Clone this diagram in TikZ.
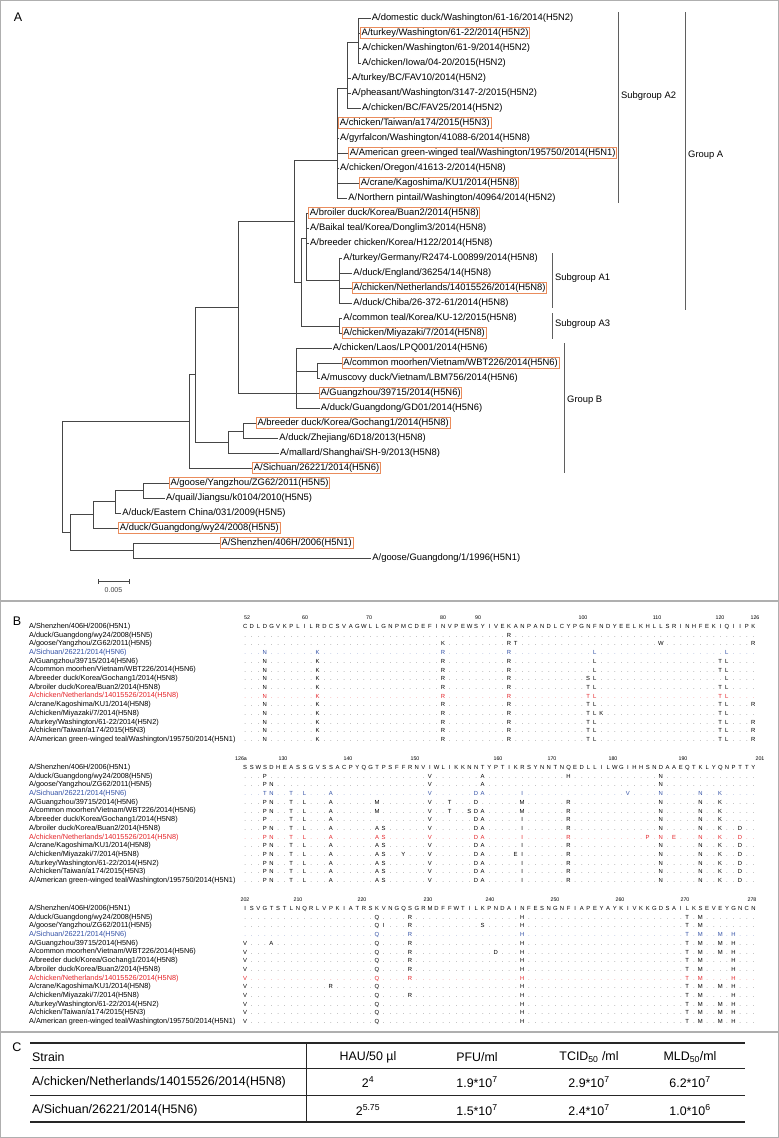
\documentclass[tikz,border=0pt]{standalone}
\usepackage{fontspec}
\setmainfont{Liberation Sans}
\definecolor{boxc}{RGB}{234,140,92}
\definecolor{treec}{RGB}{70,70,70}
\definecolor{grpc}{RGB}{95,95,95}
\definecolor{framec}{RGB}{175,175,175}
\definecolor{blueseq}{RGB}{50,80,165}
\definecolor{redseq}{RGB}{228,35,40}
\newcommand\cw{6.6pt}
\def\seq#1{\seqi#1\relax}
\def\seqi#1{\ifx\relax#1\else\makebox[\cw][c]{#1}\expandafter\seqi\fi}
\newcommand\dotline{\foreach \i in {1,...,78}{\makebox[\cw][c]{.}}}
\def\yA{626.5}
\def\yB{767.5}
\def\yC{908.5}
\newcommand\arow[4]{%
  \node[dots, text=#3!62!white] (#1d) at (241.7,{#2+2}) {\dotline};
  \foreach \k/\c in {#4} {\node[res, text=#3] (#1-\k) at ({245+6.6*\k},{#2+2}) {\c};}
}
\newcommand\names[2]{%
  \node[nm] (#2n0) at (29,{#1}) {A/Shenzhen/406H/2006(H5N1)};
  \node[nm] (#2n1) at (29,{#1+8.7}) {A/duck/Guangdong/wy24/2008(H5N5)};
  \node[nm] (#2n2) at (29,{#1+8.7*2}) {A/goose/Yangzhou/ZG62/2011(H5N5)};
  \node[nm, text=blueseq] (#2n3) at (29,{#1+8.7*3}) {A/Sichuan/26221/2014(H5N6)};
  \node[nm] (#2n4) at (29,{#1+8.7*4}) {A/Guangzhou/39715/2014(H5N6)};
  \node[nm] (#2n5) at (29,{#1+8.7*5}) {A/common moorhen/Vietnam/WBT226/2014(H5N6)};
  \node[nm] (#2n6) at (29,{#1+8.7*6}) {A/breeder duck/Korea/Gochang1/2014(H5N8)};
  \node[nm] (#2n7) at (29,{#1+8.7*7}) {A/broiler duck/Korea/Buan2/2014(H5N8)};
  \node[nm, text=redseq] (#2n8) at (29,{#1+8.7*8}) {A/chicken/Netherlands/14015526/2014(H5N8)};
  \node[nm] (#2n9) at (29,{#1+8.7*9}) {A/crane/Kagoshima/KU1/2014(H5N8)};
  \node[nm] (#2n10) at (29,{#1+8.7*10}) {A/chicken/Miyazaki/7/2014(H5N8)};
  \node[nm] (#2n11) at (29,{#1+8.7*11}) {A/turkey/Washington/61-22/2014(H5N2)};
  \node[nm] (#2n12) at (29,{#1+8.7*12}) {A/chicken/Taiwan/a174/2015(H5N3)};
  \node[nm] (#2n13) at (29,{#1+8.7*13}) {A/American green-winged teal/Washington/195750/2014(H5N1)};
}
\begin{document}
\begin{tikzpicture}[x=1pt,y=-1pt,
  leaf/.style={anchor=west, inner sep=1.2pt, font=\fontsize{9.4}{10}\selectfont},
  hl/.style={leaf, draw=boxc, line width=0.8pt},
  branch/.style={draw=treec, line width=0.9pt},
  grp/.style={draw=grpc, line width=0.9pt},
  grplab/.style={anchor=west, inner sep=0pt, font=\fontsize{9.4}{10}\selectfont},
  plab/.style={inner sep=0pt, font=\fontsize{12.5}{13}\selectfont},
  nm/.style={anchor=west, inner sep=0pt, font=\fontsize{7.3}{8}\selectfont},
  dots/.style={anchor=base west, inner sep=0pt, font=\fontsize{6}{6}\selectfont},
  res/.style={anchor=base, inner sep=0.3pt, fill=white, text height=4.3pt, text depth=0pt, font=\fontsize{5.9}{6}\selectfont},
  cons/.style={anchor=base west, inner sep=0pt, font=\fontsize{5.9}{6}\selectfont},
  num/.style={inner sep=0pt, font=\fontsize{5.3}{6}\selectfont},
  tc/.style={inner sep=0pt, font=\fontsize{12.4}{13}\selectfont},
  rule/.style={draw=black!85, line width=#1},
]
\useasboundingbox (0,0) rectangle (779,1138);
\draw[framec, line width=1.3pt] (0.7,0.7) rectangle (778.3,1137.3);
\draw[framec, line width=1.1pt] (0,601) -- (779,601);
\draw[framec, line width=1.1pt] (0,1032) -- (779,1032);

% ---------------- Panel A ----------------
\node[plab] (labA) at (18,17) {A};
\node[leaf] (l1) at (370.5,18) {A/domestic duck/Washington/61-16/2014(H5N2)};
\node[hl]   (l2) at (360,33) {A/turkey/Washington/61-22/2014(H5N2)};
\node[leaf] (l3) at (360.8,48) {A/chicken/Washington/61-9/2014(H5N2)};
\node[leaf] (l4) at (360.8,63) {A/chicken/Iowa/04-20/2015(H5N2)};
\node[leaf] (l5) at (350.5,78) {A/turkey/BC/FAV10/2014(H5N2)};
\node[leaf] (l6) at (350.5,93) {A/pheasant/Washington/3147-2/2015(H5N2)};
\node[leaf] (l7) at (360.8,108) {A/chicken/BC/FAV25/2014(H5N2)};
\node[hl]   (l8) at (338.3,123) {A/chicken/Taiwan/a174/2015(H5N3)};
\node[leaf] (l9) at (338.8,138) {A/gyrfalcon/Washington/41088-6/2014(H5N8)};
\node[hl]   (l10) at (348.3,153) {A/American green-winged teal/Washington/195750/2014(H5N1)};
\node[leaf] (l11) at (338.8,168) {A/chicken/Oregon/41613-2/2014(H5N8)};
\node[hl]   (l12) at (359.3,183) {A/crane/Kagoshima/KU1/2014(H5N8)};
\node[leaf] (l13) at (347,198) {A/Northern pintail/Washington/40964/2014(H5N2)};
\node[hl]   (l14) at (308.3,213) {A/broiler duck/Korea/Buan2/2014(H5N8)};
\node[leaf] (l15) at (308.8,228) {A/Baikal teal/Korea/Donglim3/2014(H5N8)};
\node[leaf] (l16) at (308.8,243) {A/breeder chicken/Korea/H122/2014(H5N8)};
\node[leaf] (l17) at (342,258) {A/turkey/Germany/R2474-L00899/2014(H5N8)};
\node[leaf] (l18) at (352,273) {A/duck/England/36254/14(H5N8)};
\node[hl]   (l19) at (351.7,288) {A/chicken/Netherlands/14015526/2014(H5N8)};
\node[leaf] (l20) at (352,303) {A/duck/Chiba/26-372-61/2014(H5N8)};
\node[leaf] (l21) at (342,318) {A/common teal/Korea/KU-12/2015(H5N8)};
\node[hl]   (l22) at (341.7,333) {A/chicken/Miyazaki/7/2014(H5N8)};
\node[leaf] (l23) at (331.5,348) {A/chicken/Laos/LPQ001/2014(H5N6)};
\node[hl]   (l24) at (341.7,363) {A/common moorhen/Vietnam/WBT226/2014(H5N6)};
\node[leaf] (l25) at (319.5,378) {A/muscovy duck/Vietnam/LBM756/2014(H5N6)};
\node[hl]   (l26) at (319,393) {A/Guangzhou/39715/2014(H5N6)};
\node[leaf] (l27) at (319.5,408) {A/duck/Guangdong/GD01/2014(H5N6)};
\node[hl]   (l28) at (256,423) {A/breeder duck/Korea/Gochang1/2014(H5N8)};
\node[leaf] (l29) at (278,438) {A/duck/Zhejiang/6D18/2013(H5N8)};
\node[leaf] (l30) at (278.8,453) {A/mallard/Shanghai/SH-9/2013(H5N8)};
\node[hl]   (l31) at (252.3,468) {A/Sichuan/26221/2014(H5N6)};
\node[hl]   (l32) at (169,483) {A/goose/Yangzhou/ZG62/2011(H5N5)};
\node[leaf] (l33) at (164.8,498) {A/quail/Jiangsu/k0104/2010(H5N5)};
\node[leaf] (l34) at (121,513) {A/duck/Eastern China/031/2009(H5N5)};
\node[hl]   (l35) at (118.3,528) {A/duck/Guangdong/wy24/2008(H5N5)};
\node[hl]   (l36) at (220,543) {A/Shenzhen/406H/2006(H5N1)};
\node[leaf] (l37) at (371,558) {A/goose/Guangdong/1/1996(H5N1)};

\coordinate (a1) at (358,42);
\coordinate (a2) at (347,88);
\coordinate (a3) at (337,160);
\coordinate (a4) at (294,221);
\coordinate (a5) at (301,282);
\coordinate (a6) at (306,238);
\coordinate (a7) at (339,280);
\coordinate (a8) at (339,326);
\coordinate (b1) at (296,393);
\coordinate (b2) at (317,371);
\coordinate (c1) at (238,307);
\coordinate (c2) at (195,374);
\coordinate (c3) at (189,421);
\coordinate (d1) at (243,431);
\coordinate (d2) at (228,442);
\coordinate (e1) at (143,490);
\coordinate (e2) at (115,501);
\coordinate (e3) at (93,514);
\coordinate (e4) at (133,550);
\coordinate (e5) at (70,532);
\coordinate (root) at (62,476);

\foreach \p/\c in {a1/l1,a1/l2,a1/l3,a1/l4,a2/l5,a2/l6,a2/l7,a3/l8,a3/l9,a3/l10,a3/l11,a3/l12,a3/l13,
  a6/l14,a6/l15,a6/l16,a7/l17,a7/l18,a7/l19,a7/l20,a8/l21,a8/l22,b1/l23,b2/l24,b2/l25,b1/l26,b1/l27,
  d1/l28,d1/l29,d2/l30,c3/l31,e1/l32,e1/l33,e2/l34,e3/l35,e4/l36,e4/l37}
  {\draw[branch] (\p) |- (\c.west);}
\foreach \p/\c in {a2/a1,a3/a2,a4/a3,a4/a5,a5/a6,a5/a8,a6/a7,b1/b2,c1/a4,c1/b1,d2/d1,c2/c1,c2/d2,c3/c2,
  root/c3,root/e5,e5/e3,e5/e4,e3/e2,e2/e1}
  {\draw[branch] (\p) |- (\c);}

% group brackets
\coordinate (gA2t) at (618,12); \coordinate (gA2b) at (618,203);
\coordinate (gAt) at (685,12); \coordinate (gAb) at (685,310);
\coordinate (gA1t) at (552,253); \coordinate (gA1b) at (552,308);
\coordinate (gA3t) at (552,313); \coordinate (gA3b) at (552,339);
\coordinate (gBt) at (564,343); \coordinate (gBb) at (564,473);
\draw[grp] (gA2t) -- (gA2b);
\draw[grp] (gAt) -- (gAb);
\draw[grp] (gA1t) -- (gA1b);
\draw[grp] (gA3t) -- (gA3b);
\draw[grp] (gBt) -- (gBb);
\node[grplab] (tA2) at (621,96) {Subgroup A2};
\node[grplab] (tA) at (688,155) {Group A};
\node[grplab] (tA1) at (555,278) {Subgroup A1};
\node[grplab] (tA3) at (555,324) {Subgroup A3};
\node[grplab] (tB) at (567,400) {Group B};

% scale bar
\coordinate (sb1) at (98,581); \coordinate (sb2) at (129,581);
\draw[treec, line width=0.9pt] (sb1) -- (sb2);
\draw[treec, line width=0.9pt] ([yshift=-2.5pt]sb1) -- ([yshift=2.5pt]sb1);
\draw[treec, line width=0.9pt] ([yshift=-2.5pt]sb2) -- ([yshift=2.5pt]sb2);
\node[inner sep=0pt, font=\fontsize{7}{8}\selectfont, text=black!75] (sbl) at (113.5,590) {0.005};

% ---------------- Panel B ----------------
\node[plab] (labB) at (17,621) {B};
\names{\yA}{bA}
\names{\yB}{bB}
\names{\yC}{bC}

% block 1
\foreach \n/\x in {52/247,60/305,70/369,80/443,90/478,100/583,110/657,120/720,126/755}
  {\node[num] (h1-\n) at (\x,{\yA-9}) {\n};}
\node[cons] (s1) at (241.7,{\yA+2}) {\seq{CDLDGVKPLILRDCSVAGWLLGNPMCDEFINVPEWSYIVEKANPANDLCYPGNFNDYEELKHLLSRINHFEKIQIIPK}};
\arow{p1r1}{\yA+8.7*1}{black}{40/R}
\arow{p1r2}{\yA+8.7*2}{black}{30/K,40/R,41/T,63/W,77/R}
\arow{p1r3}{\yA+8.7*3}{blueseq}{3/N,11/K,30/R,40/R,53/L,73/L}
\arow{p1r4}{\yA+8.7*4}{black}{3/N,11/K,30/R,40/R,53/L,72/T,73/L}
\arow{p1r5}{\yA+8.7*5}{black}{3/N,11/K,30/R,40/R,53/L,72/T,73/L}
\arow{p1r6}{\yA+8.7*6}{black}{3/N,11/K,30/R,40/R,52/S,53/L,73/L}
\arow{p1r7}{\yA+8.7*7}{black}{3/N,11/K,30/R,40/R,52/T,53/L,72/T,73/L}
\arow{p1r8}{\yA+8.7*8}{redseq}{3/N,11/K,30/R,40/R,52/T,53/L,72/T,73/L}
\arow{p1r9}{\yA+8.7*9}{black}{3/N,11/K,30/R,40/R,52/T,53/L,72/T,73/L,77/R}
\arow{p1r10}{\yA+8.7*10}{black}{3/N,11/K,30/R,40/R,52/T,53/L,54/K,72/T,73/L}
\arow{p1r11}{\yA+8.7*11}{black}{3/N,11/K,30/R,40/R,52/T,53/L,72/T,73/L,77/R}
\arow{p1r12}{\yA+8.7*12}{black}{3/N,11/K,30/R,40/R,52/T,53/L,72/T,73/L,77/R}
\arow{p1r13}{\yA+8.7*13}{black}{3/N,11/K,30/R,40/R,52/T,53/L,72/T,73/L,77/R}

% block 2
\foreach \n/\x in {126a/241,130/283,140/348,150/415,160/498,170/552,180/613,190/683,201/760}
  {\node[num] (h2-\n) at (\x,{\yB-9}) {\n};}
\node[cons] (s2) at (241.7,{\yB+2}) {\seq{SSWSDHEASSGVSSACPYQGTPSFFRNVIWLIKKNNTYPTIKRSYNNTNQEDLLILWGIHHSNDAAEQTKLYQNPTTY}};
\arow{p2r1}{\yB+8.7*1}{black}{3/P,28/V,36/A,49/H,63/N}
\arow{p2r2}{\yB+8.7*2}{black}{3/P,4/N,28/V,36/A,63/N}
\arow{p2r3}{\yB+8.7*3}{blueseq}{3/T,4/N,7/T,9/L,13/A,28/V,35/D,36/A,42/I,58/V,63/N,69/N,72/K}
\arow{p2r4}{\yB+8.7*4}{black}{3/P,4/N,7/T,9/L,13/A,20/M,28/V,31/T,35/D,42/M,49/R,63/N,69/N,72/K}
\arow{p2r5}{\yB+8.7*5}{black}{3/P,4/N,7/T,9/L,13/A,20/M,28/V,31/T,34/S,35/D,36/A,42/M,49/R,63/N,69/N,72/K}
\arow{p2r6}{\yB+8.7*6}{black}{3/P,7/T,9/L,13/A,28/V,35/D,36/A,42/I,49/R,63/N,69/N,72/K}
\arow{p2r7}{\yB+8.7*7}{black}{3/P,4/N,7/T,9/L,13/A,20/A,21/S,28/V,35/D,36/A,42/I,49/R,63/N,69/N,72/K,75/D}
\arow{p2r8}{\yB+8.7*8}{redseq}{3/P,4/N,7/T,9/L,13/A,20/A,21/S,28/V,35/D,36/A,42/I,49/R,61/P,63/N,65/E,69/N,72/K,75/D}
\arow{p2r9}{\yB+8.7*9}{black}{3/P,4/N,7/T,9/L,13/A,20/A,21/S,28/V,35/D,36/A,42/I,49/R,63/N,69/N,72/K,75/D}
\arow{p2r10}{\yB+8.7*10}{black}{3/P,4/N,7/T,9/L,13/A,20/A,21/S,24/Y,28/V,35/D,36/A,41/E,42/I,49/R,63/N,69/N,72/K,75/D}
\arow{p2r11}{\yB+8.7*11}{black}{3/P,4/N,7/T,9/L,13/A,20/A,21/S,28/V,35/D,36/A,42/I,49/R,63/N,69/N,72/K,75/D}
\arow{p2r12}{\yB+8.7*12}{black}{3/P,4/N,7/T,9/L,13/A,20/A,21/S,28/V,35/D,36/A,42/I,49/R,63/N,69/N,72/K,75/D}
\arow{p2r13}{\yB+8.7*13}{black}{3/P,4/N,7/T,9/L,13/A,20/A,21/S,28/V,35/D,36/A,42/I,49/R,63/N,69/N,72/K,75/D}

% block 3
\foreach \n/\x in {202/245,210/298,220/362,230/428,240/490,250/555,260/620,270/685,278/752}
  {\node[num] (h3-\n) at (\x,{\yC-9}) {\n};}
\node[cons] (s3) at (241.7,{\yC+2}) {\seq{ISVGTSTLNQRLVPKIATRSKVNGQSGRMDFFWTILKPNDAINFESNGNFIAPEYAYKIVKKGDSAILKSEVEYGNCN}};
\arow{p3r1}{\yC+8.7*1}{black}{20/Q,25/R,42/H,67/T,69/M}
\arow{p3r2}{\yC+8.7*2}{black}{20/Q,21/I,25/R,36/S,42/H,67/T,69/M}
\arow{p3r3}{\yC+8.7*3}{blueseq}{20/Q,25/R,42/H,67/T,69/M,72/M,74/H}
\arow{p3r4}{\yC+8.7*4}{black}{0/V,4/A,20/Q,25/R,42/H,67/T,69/M,72/M,74/H}
\arow{p3r5}{\yC+8.7*5}{black}{0/V,20/Q,25/R,38/D,42/H,67/T,69/M,72/M,74/H}
\arow{p3r6}{\yC+8.7*6}{black}{0/V,20/Q,25/R,42/H,67/T,69/M,74/H}
\arow{p3r7}{\yC+8.7*7}{black}{0/V,20/Q,25/R,42/H,67/T,69/M,74/H}
\arow{p3r8}{\yC+8.7*8}{redseq}{0/V,20/Q,25/R,42/H,67/T,69/M,74/H}
\arow{p3r9}{\yC+8.7*9}{black}{0/V,13/R,20/Q,42/H,67/T,69/M,72/M,74/H}
\arow{p3r10}{\yC+8.7*10}{black}{0/V,20/Q,25/R,42/H,67/T,69/M,74/H}
\arow{p3r11}{\yC+8.7*11}{black}{0/V,20/Q,42/H,67/T,69/M,72/M,74/H}
\arow{p3r12}{\yC+8.7*12}{black}{0/V,20/Q,42/H,67/T,69/M,72/M,74/H}
\arow{p3r13}{\yC+8.7*13}{black}{0/V,20/Q,42/H,67/T,69/M,72/M,74/H}

% ---------------- Panel C ----------------
\node[plab] (labC) at (17,1047) {C};
\draw[rule=1.8pt] (30,1043) -- (745,1043);
\draw[rule=1pt] (30,1068) -- (745,1068);
\draw[rule=1pt] (30,1095.5) -- (745,1095.5);
\draw[rule=1.8pt] (30,1122) -- (745,1122);
\draw[rule=1pt] (306,1043) -- (306,1122);
\node[tc, anchor=west] (cs) at (32,1057) {Strain};
\node[tc] (ch1) at (368,1057) {HAU/50 µl};
\node[tc] (ch2) at (477,1057) {PFU/ml};
\node[tc] (ch3) at (589,1057) {TCID\textsubscript{50} /ml};
\node[tc] (ch4) at (690,1057) {MLD\textsubscript{50}/ml};
\node[tc, anchor=west] (r1s) at (32,1082) {A/chicken/Netherlands/14015526/2014(H5N8)};
\node[tc] (r1a) at (368,1082) {2\textsuperscript{4}};
\node[tc] (r1b) at (477,1082) {1.9*10\textsuperscript{7}};
\node[tc] (r1c) at (589,1082) {2.9*10\textsuperscript{7}};
\node[tc] (r1d) at (690,1082) {6.2*10\textsuperscript{7}};
\node[tc, anchor=west] (r2s) at (32,1110) {A/Sichuan/26221/2014(H5N6)};
\node[tc] (r2a) at (368,1110) {2\textsuperscript{5.75}};
\node[tc] (r2b) at (477,1110) {1.5*10\textsuperscript{7}};
\node[tc] (r2c) at (589,1110) {2.4*10\textsuperscript{7}};
\node[tc] (r2d) at (690,1110) {1.0*10\textsuperscript{6}};
\end{tikzpicture}
\end{document}
